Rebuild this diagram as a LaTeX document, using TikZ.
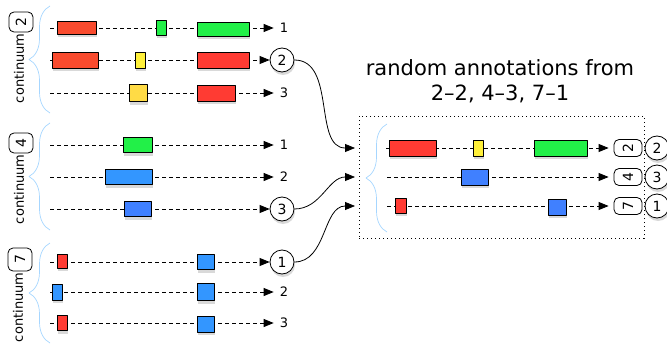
\documentclass[tikz,border=0pt]{standalone}
\usepackage{fontspec}
\setmainfont{DejaVu Sans}
\usetikzlibrary{arrows.meta,decorations.pathreplacing,shadows}
\definecolor{corange}{HTML}{F94B2E}
\definecolor{cred}{HTML}{FF3B33}
\definecolor{cgreen}{HTML}{22F048}
\definecolor{cyellow}{HTML}{FFF03A}
\definecolor{cgold}{HTML}{FFDB45}
\definecolor{cblue}{HTML}{3396FF}
\definecolor{cblueb}{HTML}{4080FF}
\definecolor{cbrace}{HTML}{A6D6FF}
\tikzset{
  bar/.style={draw,line width=0.8pt,inner sep=0pt,
    drop shadow={opacity=0.3,shadow xshift=1pt,shadow yshift=-3pt}},
  row/.style={->,dash pattern=on 4pt off 3pt,line width=0.8pt},
  num/.style={font=\fontsize{13}{13}\selectfont,inner xsep=6pt,inner ysep=1pt},
  tag/.style={circle,draw,fill=white,minimum size=24pt,inner sep=0pt,line width=0.8pt,
    font=\fontsize{14}{14}\selectfont,
    drop shadow={opacity=0.3,shadow xshift=1pt,shadow yshift=-3pt}},
  lbl/.style={rotate=90,font=\fontsize{13}{13}\selectfont,inner sep=0pt},
  keybox/.style={rotate=90,draw,fill=white,rounded corners=5pt,inner sep=0pt,line width=0.8pt,
    font=\fontsize{14}{14}\selectfont},
  brc/.style={decorate,decoration={brace,amplitude=21pt},draw=cbrace,line width=0.7pt},
  link/.style={->,line width=0.8pt}
}
\begin{document}
\begin{tikzpicture}[x=1pt,y=-1pt,>={Stealth[length=10pt,width=8pt,inset=0pt]},line join=round]
\useasboundingbox (0,0) rectangle (667,345);

% continuum 2
\node[keybox,minimum width=20pt,minimum height=24pt] (kA) at (21,22) {2};
\node[lbl,anchor=east] (cA) at ([xshift=-2pt,yshift=-1pt]kA.west) {continuum};
\draw[brc] (50,113) -- (50,6);

\coordinate (a1) at (50,28);
\node[num] (a1n) at (284,28) {1};
\draw[row] (a1) -- (a1n);
\node[bar,fill=corange,minimum width=39pt,minimum height=13pt] (a1p) at (76.5,28) {};
\node[bar,fill=cgreen,minimum width=10pt,minimum height=15pt] (a1q) at (161,28) {};
\node[bar,fill=cgreen,minimum width=52pt,minimum height=14pt] (a1r) at (223,29) {};

\coordinate (a2) at (50,60);
\node[tag] (tA2) at (282,60) {2};
\draw[row] (a2) -- (tA2);
\node[bar,fill=corange,minimum width=46pt,minimum height=16pt] (a2p) at (75,60) {};
\node[bar,fill=cyellow,minimum width=10pt,minimum height=16pt] (a2q) at (140,60) {};
\node[bar,fill=cred,minimum width=52pt,minimum height=16pt] (a2r) at (223,60) {};

\coordinate (a3) at (50,93);
\node[num] (a3n) at (284,93) {3};
\draw[row] (a3) -- (a3n);
\node[bar,fill=cgold,minimum width=18pt,minimum height=17pt] (a3p) at (138,93) {};
\node[bar,fill=cred,minimum width=38pt,minimum height=16pt] (a3q) at (216,93) {};

% continuum 4
\node[keybox,minimum width=20pt,minimum height=24pt] (kB) at (21,143) {4};
\node[lbl,anchor=east] (cB) at ([xshift=-2pt,yshift=-1pt]kB.west) {continuum};
\draw[brc] (50,230) -- (50,123);

\coordinate (b1) at (50,145);
\node[num] (b1n) at (284,145) {1};
\draw[row] (b1) -- (b1n);
\node[bar,fill=cgreen,minimum width=29pt,minimum height=15pt] (b1p) at (137.5,145) {};

\coordinate (b2) at (50,177);
\node[num] (b2n) at (284,177) {2};
\draw[row] (b2) -- (b2n);
\node[bar,fill=cblue,minimum width=47pt,minimum height=15pt] (b2p) at (128.5,177) {};

\coordinate (b3) at (50,209);
\node[tag] (tB3) at (282,209) {3};
\draw[row] (b3) -- (tB3);
\node[bar,fill=cblueb,minimum width=27pt,minimum height=15pt] (b3p) at (137.5,209) {};

% continuum 7
\node[keybox,minimum width=23pt,minimum height=24pt] (kC) at (20,259.5) {7};
\node[lbl,anchor=east] (cC) at ([xshift=-2pt,yshift=-1pt]kC.west) {continuum};
\draw[brc] (50,343) -- (50,243);

\coordinate (c1) at (50,262);
\node[tag] (tC1) at (282,262) {1};
\draw[row] (c1) -- (tC1);
\node[bar,fill=cred,minimum width=10pt,minimum height=14pt] (c1p) at (62,261) {};
\node[bar,fill=cblue,minimum width=17pt,minimum height=15pt] (c1q) at (205.5,262) {};

\coordinate (c2) at (50,292);
\node[num] (c2n) at (284,292) {2};
\draw[row] (c2) -- (c2n);
\node[bar,fill=cblue,minimum width=10pt,minimum height=16pt] (c2p) at (57,292) {};
\node[bar,fill=cblue,minimum width=17pt,minimum height=17pt] (c2q) at (205.5,292) {};

\coordinate (c3) at (50,323);
\node[num] (c3n) at (284,323) {3};
\draw[row] (c3) -- (c3n);
\node[bar,fill=cred,minimum width=10pt,minimum height=15pt] (c3p) at (62,323) {};
\node[bar,fill=cblue,minimum width=17pt,minimum height=16pt] (c3q) at (205.5,324) {};

% random annotations
\node[font=\fontsize{21}{21}\selectfont,anchor=base] (title) at (500,76) {random annotations from};
\node[font=\fontsize{21}{21}\selectfont,anchor=base] (pick) at (500,100) {2–2, 4–3, 7–1};
\node[draw,dash pattern=on 1pt off 3pt,minimum width=285pt,minimum height=122pt] (sel) at (501.5,177) {};
\draw[brc] (387,232) -- (387,124);

\coordinate (r1) at (386,148);
\node[keybox,minimum width=17pt,minimum height=28pt] (rk1) at (628,148) {2};
\node[tag] (rt1) at (657,148) {2};
\draw[row,shorten >=5pt] (r1) -- (rk1);
\node[bar,fill=cred,minimum width=47pt,minimum height=16pt] (r1p) at (412.5,148) {};
\node[bar,fill=cyellow,minimum width=10pt,minimum height=16pt] (r1q) at (478,148) {};
\node[bar,fill=cgreen,minimum width=53pt,minimum height=16pt] (r1r) at (560.5,148) {};

\coordinate (r2) at (387,177);
\node[keybox,minimum width=17pt,minimum height=28pt] (rk2) at (628,177) {4};
\node[tag] (rt2) at (657,177) {3};
\draw[row,shorten >=5pt] (r2) -- (rk2);
\node[bar,fill=cblueb,minimum width=27pt,minimum height=16pt] (r2p) at (474.5,177) {};

\coordinate (r3) at (387,206);
\node[keybox,minimum width=17pt,minimum height=28pt] (rk3) at (628,206) {7};
\node[tag] (rt3) at (657,206) {1};
\draw[row,shorten >=5pt] (r3) -- (rk3);
\node[bar,fill=cred,minimum width=11pt,minimum height=15pt] (r3p) at (400.5,205.5) {};
\node[bar,fill=cblueb,minimum width=18pt,minimum height=16pt] (r3q) at (557,207) {};

% picks into the box
\coordinate (in1) at (355,148);
\coordinate (in2) at (355,177);
\coordinate (in3) at (355,206);
\draw[link] (tA2) to[out=0,in=180] (in1);
\draw[link] (tB3) to[out=0,in=180] (in2);
\draw[link] (tC1) to[out=0,in=180] (in3);
\end{tikzpicture}
\end{document}
